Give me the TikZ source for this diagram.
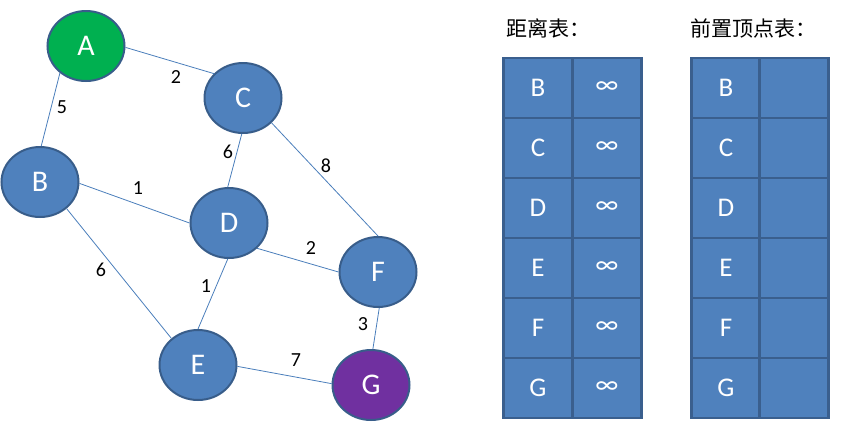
\documentclass[tikz,border=0pt]{standalone}
\usepackage{fontspec}
\setmainfont{Carlito}
\newfontfamily\cjkfont{Noto Sans CJK SC}
\usepackage{tikz}
\usetikzlibrary{shapes.geometric}

\definecolor{vblue}{HTML}{4F81BD}
\definecolor{vborder}{HTML}{385D8A}
\definecolor{agreen}{HTML}{00B050}
\definecolor{gpurple}{HTML}{7030A0}
\definecolor{linkcol}{HTML}{4A7EBB}
\definecolor{tborder}{HTML}{3A5F8E}

\begin{document}
\begin{tikzpicture}
  [
    x=1pt, y=-1pt,
    vertex/.style = {draw=vborder, ellipse, fill=vblue, line width=2pt,
                     minimum width=77pt, minimum height=70pt, inner sep=0pt,
                     text=white, font=\fontsize{30}{32}\selectfont},
    link/.style   = {draw=linkcol, line width=0.8pt},
    weight/.style = {inner sep=0pt, font=\fontsize{20}{22}\selectfont},
    cell/.style   = {draw=tborder, fill=vblue, line width=2.5pt,
                     minimum width=69pt, minimum height=60pt, inner sep=0pt,
                     text=white, font=\fontsize{27}{29}\selectfont},
    title/.style  = {anchor=west, inner sep=0pt, font=\cjkfont\fontsize{21}{23}\selectfont},
  ]

%Fix the page to the size of the reference
\useasboundingbox (0,0) rectangle (851,421);

%The vertices of the graph
\node[vertex, fill=agreen]  (A) at (86,46)   {A};
\node[vertex]               (C) at (243,98)  {C};
\node[vertex]               (B) at (40,182)  {B};
\node[vertex]               (D) at (229,223) {D};
\node[vertex]               (F) at (378,272) {F};
\node[vertex]               (E) at (198,365) {E};
\node[vertex, fill=gpurple] (G) at (371,385) {G};

%The edges, from one border point to the other
\foreach \u/\a/\v/\b in {A/-2/C/140, A/226/B/88, C/268/D/92, C/-41/F/90,
                         B/-2/D/180, B/-45/E/135, D/-42/F/180, D/268/E/90,
                         F/-88/G/87, E/-2/G/178}
  \draw[link] (\u.\a) -- (\v.\b);

%Edge weights
\foreach \e/\x/\y/\w in {AC/176/77/2, AB/62/107/5, CD/228/152/6, CF/326/166/8,
                         BD/138/188/1, DF/311/248/2, BE/101/270/6, DE/206/286/1,
                         FG/363/324/3, EG/296/360/7}
  \node[weight] (w\e) at (\x,\y) {\w};

%Titles of the two tables
\node[title] (disttitle) at (506,28) {距离表：};
\node[title] (prevtitle) at (690,28) {前置顶点表：};

%Distance table and predecessor table
\foreach [count=\i] \j in {B,C,D,E,F,G}
{
\node[cell] (dk\j) at (538,28+60*\i) {\j};
\node[cell] (dv\j) at (607,28+60*\i) {∞};
\node[cell] (pk\j) at (726,28+60*\i) {\j};
\node[cell] (pv\j) at (794,28+60*\i) {};
}
\end{tikzpicture}
\end{document}
